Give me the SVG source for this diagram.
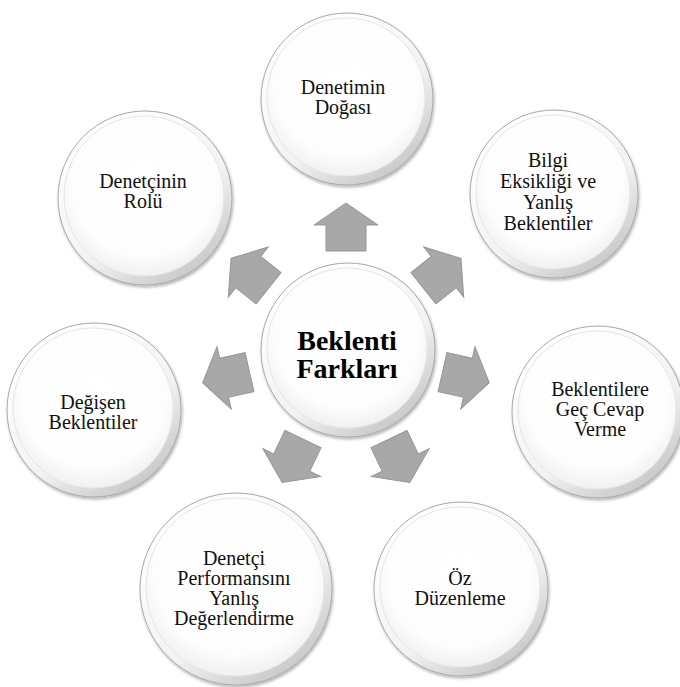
<svg xmlns="http://www.w3.org/2000/svg" width="680" height="687" viewBox="0 0 680 687">
<defs>
<linearGradient id="rim" x1="0.2" y1="0.1" x2="0.8" y2="0.95">
<stop offset="0" stop-color="#ffffff"/>
<stop offset="0.6" stop-color="#f2f2f2"/>
<stop offset="1" stop-color="#c6c6c6"/>
</linearGradient>
<radialGradient id="face" cx="0.5" cy="0.42" r="0.6">
<stop offset="0" stop-color="#ffffff"/>
<stop offset="0.75" stop-color="#fdfdfd"/>
<stop offset="1" stop-color="#efefef"/>
</radialGradient>
<filter id="sh" x="-20%" y="-20%" width="140%" height="140%">
<feGaussianBlur in="SourceAlpha" stdDeviation="1.5"/>
<feOffset dx="1" dy="1.5" result="b"/>
<feComponentTransfer><feFuncA type="linear" slope="0.3"/></feComponentTransfer>
<feMerge><feMergeNode/><feMergeNode in="SourceGraphic"/></feMerge>
</filter>
<path id="arr" d="M0,-24 L32,-2 L20,-2 L20,24 L-20,24 L-20,-2 L-32,-2 Z"/>
</defs>
<style>
.outer{fill:url(#rim);stroke:#a8a8a8;stroke-width:1;filter:url(#sh)}
.inner{fill:url(#face);stroke:#e6e6e6;stroke-width:1}
.t{font-family:"Liberation Serif","Times New Roman",serif;font-size:20px;fill:#111;text-anchor:middle}
.tb{font-family:"Liberation Serif","Times New Roman",serif;font-size:28px;font-weight:bold;fill:#000;text-anchor:middle}
.a{fill:#a8a8a8;stroke:#979797;stroke-width:1;stroke-linejoin:miter}
</style>
<rect width="680" height="687" fill="#ffffff"/>

<g id="connectors">
<use href="#arr" class="a" transform="translate(346,227)"/>
<use href="#arr" class="a" transform="translate(442.2,273.3) rotate(51.43)"/>
<use href="#arr" class="a" transform="translate(465.9,377.4) rotate(102.86)"/>
<use href="#arr" class="a" transform="translate(399.4,460.8) rotate(154.29)"/>
<use href="#arr" class="a" transform="translate(292.6,460.8) rotate(205.71)"/>
<use href="#arr" class="a" transform="translate(226.1,377.4) rotate(257.14)"/>
<use href="#arr" class="a" transform="translate(249.8,273.3) rotate(308.57)"/>
</g>

<g id="center">
<circle class="outer" cx="348" cy="350" r="87"/>
<circle class="inner" cx="347" cy="348" r="80"/>
<text class="tb" x="347" y="350">Beklenti</text>
<text class="tb" x="347" y="378">Farkları</text>
</g>

<g id="n-top">
<circle class="outer" cx="347" cy="99" r="86"/>
<circle class="inner" cx="346" cy="97" r="79"/>
<text class="t" x="343" y="94">Denetimin</text>
<text class="t" x="343" y="114">Doğası</text>
</g>

<g id="n-upright">
<circle class="outer" cx="554" cy="194" r="84"/>
<circle class="inner" cx="553" cy="192" r="77"/>
<text class="t" x="548" y="167">Bilgi</text>
<text class="t" x="548" y="188">Eksikliği ve</text>
<text class="t" x="548" y="209">Yanlış</text>
<text class="t" x="548" y="230">Beklentiler</text>
</g>

<g id="n-right">
<circle class="outer" cx="598" cy="412" r="86"/>
<circle class="inner" cx="597" cy="410" r="79"/>
<text class="t" x="600" y="396">Beklentilere</text>
<text class="t" x="600" y="416">Geç Cevap</text>
<text class="t" x="600" y="436">Verme</text>
</g>

<g id="n-downright">
<circle class="outer" cx="461" cy="589" r="87"/>
<circle class="inner" cx="460" cy="587" r="80"/>
<text class="t" x="460" y="585">Öz</text>
<text class="t" x="460" y="605">Düzenleme</text>
</g>

<g id="n-downleft">
<circle class="outer" cx="236" cy="589" r="96"/>
<circle class="inner" cx="235" cy="587" r="89"/>
<text class="t" x="234" y="565">Denetçi</text>
<text class="t" x="234" y="585">Performansını</text>
<text class="t" x="234" y="605">Yanlış</text>
<text class="t" x="234" y="625">Değerlendirme</text>
</g>

<g id="n-left">
<circle class="outer" cx="94" cy="410" r="87"/>
<circle class="inner" cx="93" cy="408" r="80"/>
<text class="t" x="93" y="409">Değişen</text>
<text class="t" x="93" y="429">Beklentiler</text>
</g>

<g id="n-upleft">
<circle class="outer" cx="145" cy="198" r="87"/>
<circle class="inner" cx="144" cy="196" r="80"/>
<text class="t" x="143" y="188">Denetçinin</text>
<text class="t" x="143" y="208">Rolü</text>
</g>
</svg>
